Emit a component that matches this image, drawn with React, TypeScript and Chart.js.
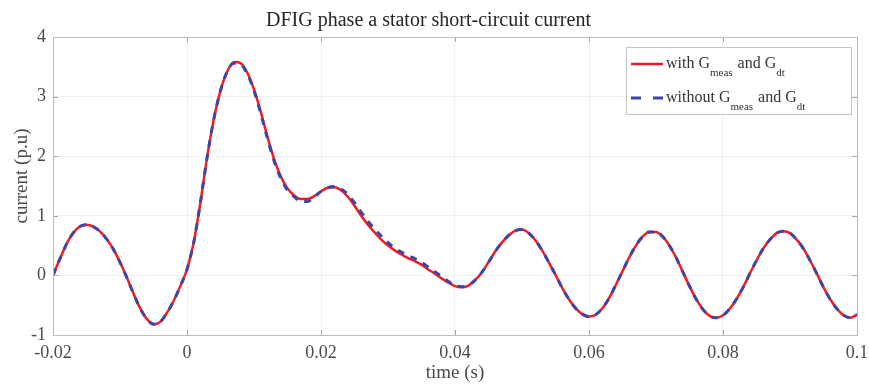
import React, { useEffect, useRef } from 'react';
import { Chart, registerables } from 'chart.js';

Chart.register(...registerables);

const chartTitle = 'DFIG phase a stator short-circuit current';
const xAxisTitle = 'time (s)';
const yAxisTitle = 'current (p.u)';

const times = [
  -0.020, -0.019, -0.018, -0.017, -0.016, -0.015, -0.014, -0.013, -0.012, -0.011,
  -0.010, -0.009, -0.008, -0.007, -0.006, -0.005, -0.004, -0.003, -0.002, -0.001,
  0.000, 0.001, 0.002, 0.003, 0.004, 0.005, 0.006, 0.007, 0.008, 0.009,
  0.010, 0.011, 0.012, 0.013, 0.014, 0.015, 0.016, 0.017, 0.018, 0.019,
  0.020, 0.021, 0.022, 0.023, 0.024, 0.025, 0.026, 0.027, 0.028, 0.029,
  0.030, 0.031, 0.032, 0.033, 0.034, 0.035, 0.036, 0.037, 0.038, 0.039,
  0.040, 0.041, 0.042, 0.043, 0.044, 0.045, 0.046, 0.047, 0.048, 0.049,
  0.050, 0.051, 0.052, 0.053, 0.054, 0.055, 0.056, 0.057, 0.058, 0.059,
  0.060, 0.061, 0.062, 0.063, 0.064, 0.065, 0.066, 0.067, 0.068, 0.069,
  0.070, 0.071, 0.072, 0.073, 0.074, 0.075, 0.076, 0.077, 0.078, 0.079,
  0.080, 0.081, 0.082, 0.083, 0.084, 0.085, 0.086, 0.087, 0.088, 0.089,
  0.090, 0.091, 0.092, 0.093, 0.094, 0.095, 0.096, 0.097, 0.098, 0.099,
  0.100,
];

// with G_meas and G_dt (red, solid)
const withGValues = [
  0.00, 0.27, 0.52, 0.71, 0.82, 0.85, 0.82, 0.74, 0.61, 0.44,
  0.22, -0.03, -0.30, -0.55, -0.73, -0.82, -0.78, -0.63, -0.43, -0.18,
  0.10, 0.55, 1.22, 1.98, 2.62, 3.10, 3.42, 3.58, 3.56, 3.40,
  3.12, 2.75, 2.33, 1.95, 1.66, 1.46, 1.34, 1.28, 1.28, 1.33,
  1.41, 1.47, 1.48, 1.43, 1.32, 1.17, 1.00, 0.85, 0.72, 0.60,
  0.50, 0.42, 0.35, 0.29, 0.24, 0.18, 0.10, 0.03, -0.05, -0.12,
  -0.18, -0.20, -0.17, -0.08, 0.05, 0.22, 0.40, 0.55, 0.67, 0.75,
  0.77, 0.71, 0.59, 0.42, 0.22, 0.01, -0.21, -0.40, -0.55, -0.65,
  -0.69, -0.66, -0.55, -0.38, -0.16, 0.07, 0.30, 0.50, 0.65, 0.73,
  0.73, 0.65, 0.50, 0.30, 0.06, -0.18, -0.40, -0.57, -0.68, -0.71,
  -0.67, -0.56, -0.40, -0.20, 0.03, 0.25, 0.45, 0.60, 0.71, 0.74,
  0.71, 0.60, 0.45, 0.25, 0.03, -0.20, -0.40, -0.56, -0.67, -0.71,
  -0.66,
];

// without G_meas and G_dt (blue, dashed)
const withoutGValues = [
  0.00, 0.27, 0.52, 0.71, 0.82, 0.85, 0.82, 0.74, 0.61, 0.44,
  0.22, -0.03, -0.30, -0.55, -0.73, -0.82, -0.78, -0.63, -0.43, -0.18,
  0.10, 0.55, 1.22, 1.98, 2.62, 3.10, 3.42, 3.56, 3.54, 3.38,
  3.10, 2.72, 2.30, 1.92, 1.63, 1.43, 1.32, 1.24, 1.24, 1.31,
  1.41, 1.47, 1.49, 1.45, 1.36, 1.22, 1.06, 0.91, 0.78, 0.66,
  0.55, 0.46, 0.39, 0.33, 0.28, 0.22, 0.14, 0.06, -0.02, -0.10,
  -0.17, -0.19, -0.17, -0.08, 0.05, 0.22, 0.40, 0.55, 0.67, 0.75,
  0.77, 0.71, 0.59, 0.42, 0.22, 0.01, -0.21, -0.40, -0.55, -0.65,
  -0.69, -0.66, -0.55, -0.38, -0.16, 0.07, 0.30, 0.50, 0.65, 0.73,
  0.73, 0.65, 0.50, 0.30, 0.06, -0.18, -0.40, -0.57, -0.68, -0.71,
  -0.67, -0.56, -0.40, -0.20, 0.03, 0.25, 0.45, 0.60, 0.71, 0.74,
  0.71, 0.60, 0.45, 0.25, 0.03, -0.20, -0.40, -0.56, -0.67, -0.71,
  -0.66,
];

const xTickValues = [-0.02, 0, 0.02, 0.04, 0.06, 0.08, 0.1];
const xTickLabels = ['-0.02', '0', '0.02', '0.04', '0.06', '0.08', '0.1'];
const yTickValues = [-1, 0, 1, 2, 3, 4];
const yTickLabels = ['-1', '0', '1', '2', '3', '4'];

// legend text pieces: [main, subscript, main, subscript]
const legendRed = ['with G', 'meas', ' and G', 'dt'];
const legendBlue = ['without G', 'meas', ' and G', 'dt'];

const RED = '#f01c22';
const BLUE = '#3b46a8';
const SERIF = '"Liberation Serif", "Times New Roman", serif';
const TEXT = '#4a4a4a';
const AXIS = '#bdbdbd';

const innerTicksPlugin = {
  id: 'innerTicks',
  afterDatasetsDraw(chart: any) {
    const { ctx, chartArea: a, scales } = chart;
    const len = 5;
    ctx.save();
    ctx.strokeStyle = '#a8a8a8';
    ctx.lineWidth = 1;
    ctx.beginPath();
    xTickValues.forEach((v) => {
      const px = Math.round(scales.x.getPixelForValue(v)) + 0.5;
      ctx.moveTo(px, a.bottom);
      ctx.lineTo(px, a.bottom - len);
      ctx.moveTo(px, a.top);
      ctx.lineTo(px, a.top + len);
    });
    yTickValues.forEach((v) => {
      const py = Math.round(scales.y.getPixelForValue(v)) + 0.5;
      ctx.moveTo(a.left, py);
      ctx.lineTo(a.left + len, py);
      ctx.moveTo(a.right, py);
      ctx.lineTo(a.right - len, py);
    });
    ctx.stroke();
    ctx.strokeStyle = AXIS;
    ctx.strokeRect(Math.round(a.left) + 0.5, Math.round(a.top) + 0.5, Math.round(a.right - a.left), Math.round(a.bottom - a.top));

    // y-axis title
    ctx.translate(22, 176);
    ctx.rotate(-Math.PI / 2);
    ctx.fillStyle = TEXT;
    ctx.font = `19px ${SERIF}`;
    ctx.textAlign = 'center';
    ctx.textBaseline = 'middle';
    ctx.fillText(yAxisTitle, 0, 0);
    ctx.restore();
  },
};

const legendPlugin = {
  id: 'subscriptLegend',
  afterDraw(chart: any) {
    const { ctx, chartArea: a } = chart;
    const bx = a.right - 231;
    const by = a.top + 10;
    const bw = 225;
    const bh = 67;
    ctx.save();
    ctx.fillStyle = '#ffffff';
    ctx.fillRect(bx, by, bw, bh);
    ctx.strokeStyle = '#c4c4c4';
    ctx.lineWidth = 1;
    ctx.strokeRect(bx + 0.5, by + 0.5, bw, bh);

    const rows = [
      { y: by + 17, color: RED, dash: [] as number[], width: 2.5, parts: legendRed },
      { y: by + 51, color: BLUE, dash: [10, 12], width: 3, parts: legendBlue },
    ];
    rows.forEach((r) => {
      ctx.strokeStyle = r.color;
      ctx.lineWidth = r.width;
      ctx.setLineDash(r.dash);
      ctx.beginPath();
      ctx.moveTo(bx + 5, r.y);
      ctx.lineTo(bx + 37, r.y);
      ctx.stroke();
      ctx.setLineDash([]);
      let x = bx + 40;
      ctx.fillStyle = '#333333';
      ctx.textBaseline = 'alphabetic';
      ctx.textAlign = 'left';
      r.parts.forEach((p, i) => {
        const isSub = i % 2 === 1;
        ctx.font = isSub ? `11px ${SERIF}` : `16px ${SERIF}`;
        ctx.fillText(p, x, isSub ? r.y + 12 : r.y + 4);
        x += ctx.measureText(p).width + (isSub ? 1 : 0);
      });
    });
    ctx.restore();
  },
};

export default function App() {
  const canvasRef = useRef<HTMLCanvasElement | null>(null);

  useEffect(() => {
    const canvas = canvasRef.current;
    if (!canvas) return;
    const chart = new Chart(canvas, {
      type: 'line',
      data: {
        datasets: [
          {
            label: 'with G_meas and G_dt',
            data: times.map((t, i) => ({ x: t, y: withGValues[i] })),
            borderColor: RED,
            borderWidth: 2.5,
            pointRadius: 0,
            cubicInterpolationMode: 'monotone',
            order: 2,
          },
          {
            label: 'without G_meas and G_dt',
            data: times.map((t, i) => ({ x: t, y: withoutGValues[i] })),
            borderColor: BLUE,
            borderWidth: 3,
            borderDash: [7, 7],
            pointRadius: 0,
            cubicInterpolationMode: 'monotone',
            order: 1,
          },
        ],
      },
      options: {
        responsive: false,
        animation: false,
        devicePixelRatio: 1,
        layout: { padding: { left: 0, right: 12, top: 0, bottom: 0 } },
        plugins: {
          legend: { display: false },
          tooltip: { enabled: false },
          title: {
            display: true,
            text: chartTitle,
            color: '#262626',
            font: { family: SERIF, size: 20, weight: 'normal' },
            padding: { top: 9, bottom: 4 },
          },
        },
        scales: {
          x: {
            type: 'linear',
            min: -0.02,
            max: 0.1,
            afterBuildTicks: (s: any) => {
              s.ticks = xTickValues.map((v) => ({ value: v }));
            },
            afterFit: (s: any) => {
              s.height = 49;
              s.paddingLeft = 0;
              s.paddingRight = 0;
            },
            ticks: {
              autoSkip: false,
              maxRotation: 0,
              padding: 7,
              color: TEXT,
              font: { family: SERIF, size: 18 },
              callback: (_v: any, i: number) => xTickLabels[i],
            },
            grid: { color: 'rgba(0,0,0,0.06)', drawTicks: false },
            border: { color: AXIS },
            title: {
              display: true,
              text: xAxisTitle,
              color: TEXT,
              font: { family: SERIF, size: 19 },
              padding: { top: 0, bottom: 0 },
            },
          },
          y: {
            type: 'linear',
            min: -1,
            max: 4,
            afterBuildTicks: (s: any) => {
              s.ticks = yTickValues.map((v) => ({ value: v }));
            },
            afterFit: (s: any) => {
              s.width = 53;
              s.paddingTop = 0;
              s.paddingBottom = 0;
            },
            ticks: {
              autoSkip: false,
              padding: 7,
              color: TEXT,
              font: { family: SERIF, size: 18 },
              callback: (_v: any, i: number) => yTickLabels[i],
            },
            grid: { color: 'rgba(0,0,0,0.06)', drawTicks: false },
            border: { color: AXIS },
            title: { display: false },
          },
        },
      },
      plugins: [innerTicksPlugin, legendPlugin],
    } as any);
    return () => chart.destroy();
  }, []);

  return (
    <div style={{ position: 'absolute', left: 0, top: 0, width: 869, height: 384, background: '#fff' }}>
      <canvas ref={canvasRef} width={869} height={384} style={{ display: 'block' }} />
    </div>
  );
}
